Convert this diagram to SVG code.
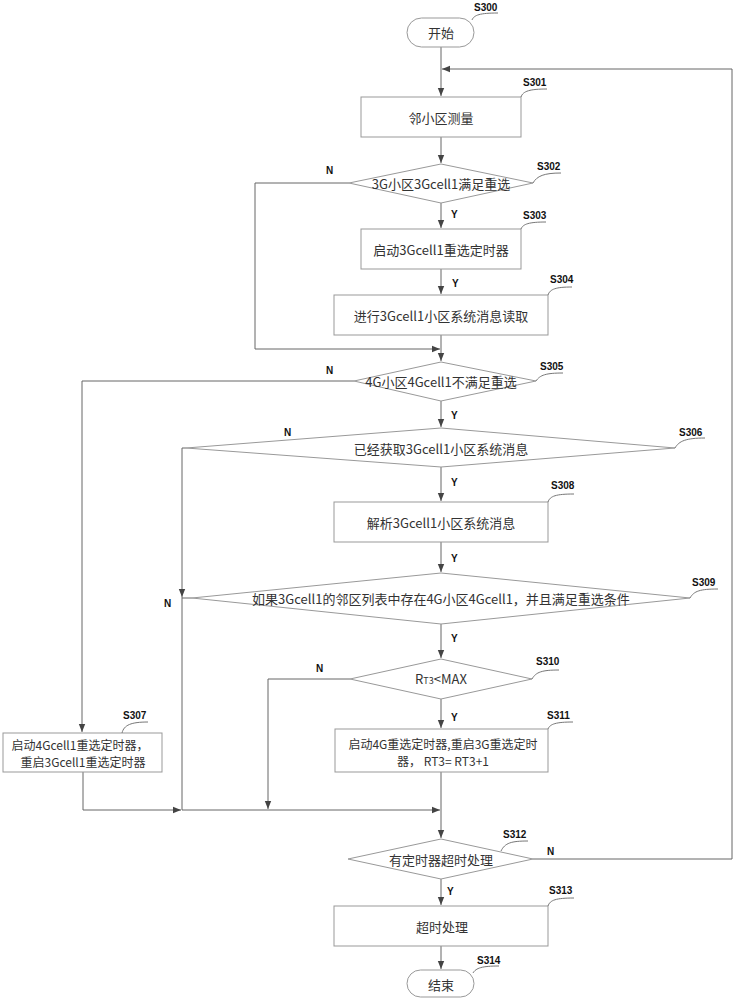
<svg xmlns="http://www.w3.org/2000/svg" width="735" height="1000" viewBox="0 0 735 1000">
<style>
.shape{fill:#fff;stroke:#999;stroke-width:1}
.conn{fill:none;stroke:#666;stroke-width:1}
.lead{fill:none;stroke:#777;stroke-width:1}
.t{font-family:"Noto Sans CJK SC","Liberation Sans",sans-serif;font-size:13px;fill:#333;text-anchor:middle;dominant-baseline:central}
.t2{font-family:"Noto Sans CJK SC","Liberation Sans",sans-serif;font-size:12px;fill:#333;text-anchor:middle;dominant-baseline:central}
.ta{font-family:"Noto Sans CJK SC","Liberation Sans",sans-serif;font-size:13px;fill:#333;text-anchor:middle}
.lbl{font-family:"Liberation Sans",Arial,sans-serif;font-size:10px;font-weight:bold;fill:#111}
.yn{font-family:"Liberation Sans",Arial,sans-serif;font-size:10px;font-weight:bold;fill:#111}
</style>
<defs>
<marker id="arr" markerUnits="userSpaceOnUse" markerWidth="8" markerHeight="8" viewBox="0 0 8 8" refX="8" refY="4" orient="auto">
<path d="M0,0.8 L8,4 L0,7.2 Z" fill="#444"/>
</marker>
</defs>
<rect width="735" height="1000" fill="#fff"/>

<g id="connectors">
<path class="conn" d="M441,47 V96" marker-end="url(#arr)"/>
<path class="conn" d="M441,137 V163" marker-end="url(#arr)"/>
<path class="conn" d="M441,203 V228" marker-end="url(#arr)"/>
<path class="conn" d="M441,269 V294" marker-end="url(#arr)"/>
<path class="conn" d="M441,335 V361" marker-end="url(#arr)"/>
<path class="conn" d="M349,183 H255 V349 H440" marker-end="url(#arr)"/>
<path class="conn" d="M441,401 V427" marker-end="url(#arr)"/>
<path class="conn" d="M354,381 H82 V732" marker-end="url(#arr)"/>
<path class="conn" d="M441,467 V501" marker-end="url(#arr)"/>
<path class="conn" d="M186,448 H182 V597" marker-end="url(#arr)"/>
<path class="conn" d="M182,597 V810"/>
<path class="conn" d="M441,542 V572" marker-end="url(#arr)"/>
<path class="conn" d="M192,598 H182"/>
<path class="conn" d="M441,624 V658" marker-end="url(#arr)"/>
<path class="conn" d="M350,679 H268 V809" marker-end="url(#arr)"/>
<path class="conn" d="M441,699 V728" marker-end="url(#arr)"/>
<path class="conn" d="M441,772 V838" marker-end="url(#arr)"/>
<path class="conn" d="M83,772 V810 H181" marker-end="url(#arr)"/>
<path class="conn" d="M182,810 H440" marker-end="url(#arr)"/>
<path class="conn" d="M533,859 H732 V69 H442" marker-end="url(#arr)"/>
<path class="conn" d="M441,879 V905" marker-end="url(#arr)"/>
<path class="conn" d="M441,946 V969" marker-end="url(#arr)"/>
<text class="yn" x="326" y="174">N</text>
<text class="yn" x="451" y="218">Y</text>
<text class="yn" x="452" y="287">Y</text>
<text class="yn" x="326" y="374">N</text>
<text class="yn" x="451" y="419">Y</text>
<text class="yn" x="284" y="436">N</text>
<text class="yn" x="451" y="486">Y</text>
<text class="yn" x="451" y="562">Y</text>
<text class="yn" x="164" y="607">N</text>
<text class="yn" x="451" y="642">Y</text>
<text class="yn" x="316" y="672">N</text>
<text class="yn" x="451" y="721">Y</text>
<text class="yn" x="547" y="855">N</text>
<text class="yn" x="447" y="895">Y</text>
</g>

<g id="S300">
<rect class="shape" x="407" y="18" width="67" height="29" rx="14.5"/>
<text class="t" x="441" y="32">开始</text>
<path class="lead" d="M472,20 C474,15 480,13 498,13"/>
<text class="lbl" x="474" y="11">S300</text>
</g>
<g id="S301">
<rect class="shape" x="361" y="97" width="160" height="40"/>
<text class="t" x="441" y="117">邻小区测量</text>
<path class="lead" d="M521,97 C523,91 530,89 547,89"/>
<text class="lbl" x="523" y="86">S301</text>
</g>
<g id="S302">
<polygon class="shape" points="441,164 533,183 441,203 349,183"/>
<text class="t" x="441" y="183">3G小区3Gcell1满足重选</text>
<path class="lead" d="M533,183 C537,176 544,173 561,173"/>
<text class="lbl" x="537" y="170">S302</text>
</g>
<g id="S303">
<rect class="shape" x="361" y="229" width="160" height="40"/>
<text class="t" x="441" y="249">启动3Gcell1重选定时器</text>
<path class="lead" d="M521,229 C523,224 529,222 546,222"/>
<text class="lbl" x="523" y="219">S303</text>
</g>
<g id="S304">
<rect class="shape" x="334" y="295" width="214" height="40"/>
<text class="t" x="441" y="315">进行3Gcell1小区系统消息读取</text>
<path class="lead" d="M548,295 C550,289 556,287 572,287"/>
<text class="lbl" x="550" y="283">S304</text>
</g>
<g id="S305">
<polygon class="shape" points="441,362 536,381 441,401 354,381"/>
<text class="t" x="441" y="381">4G小区4Gcell1不满足重选</text>
<path class="lead" d="M536,381 C540,375 546,373 563,373"/>
<text class="lbl" x="540" y="370">S305</text>
</g>
<g id="S306">
<polygon class="shape" points="441,428 675,448 441,467 186,448"/>
<text class="t" x="441" y="448">已经获取3Gcell1小区系统消息</text>
<path class="lead" d="M675,448 C679,441 686,438 705,438"/>
<text class="lbl" x="679" y="436">S306</text>
</g>
<g id="S307">
<rect class="shape" x="3" y="733" width="159" height="39"/>
<text class="t2" x="80" y="744">启动4Gcell1重选定时器，</text>
<text class="t2" x="83" y="761">重启3Gcell1重选定时器</text>
<path class="lead" d="M122,733 C124,725 131,722 148,722"/>
<text class="lbl" x="123" y="719">S307</text>
</g>
<g id="S308">
<rect class="shape" x="334" y="502" width="214" height="40"/>
<text class="t" x="441" y="522">解析3Gcell1小区系统消息</text>
<path class="lead" d="M548,502 C550,496 556,494 574,494"/>
<text class="lbl" x="551" y="489">S308</text>
</g>
<g id="S309">
<polygon class="shape" points="441,573 690,598 441,624 192,598"/>
<text class="t" x="441" y="598">如果3Gcell1的邻区列表中存在4G小区4Gcell1，并且满足重选条件</text>
<path class="lead" d="M690,598 C694,591 700,589 718,589"/>
<text class="lbl" x="692" y="586">S309</text>
</g>
<g id="S310">
<polygon class="shape" points="441,659 532,679 441,699 350,679"/>
<text class="ta" x="441" y="684">R<tspan font-size="9">T3</tspan>&lt;MAX</text>
<path class="lead" d="M532,679 C536,672 542,670 559,670"/>
<text class="lbl" x="536" y="665">S310</text>
</g>
<g id="S311">
<rect class="shape" x="335" y="729" width="213" height="43"/>
<text class="t2" x="443" y="743">启动4G重选定时器,重启3G重选定时</text>
<text class="t2" x="443" y="760">器， RT3= RT3+1</text>
<path class="lead" d="M548,729 C550,724 556,722 573,722"/>
<text class="lbl" x="547" y="719">S311</text>
</g>
<g id="S312">
<polygon class="shape" points="441,839 533,859 441,879 348,859"/>
<text class="t" x="441" y="859">有定时器超时处理</text>
<path class="lead" d="M501,851 C505,843 511,841 528,841"/>
<text class="lbl" x="503" y="838">S312</text>
</g>
<g id="S313">
<rect class="shape" x="334" y="906" width="214" height="40"/>
<text class="t" x="442" y="926">超时处理</text>
<path class="lead" d="M548,906 C550,900 556,898 574,898"/>
<text class="lbl" x="549" y="894">S313</text>
</g>
<g id="S314">
<rect class="shape" x="407" y="970" width="67" height="27" rx="13.5"/>
<text class="t" x="441" y="984">结束</text>
<path class="lead" d="M473,973 C476,968 482,966 499,966"/>
<text class="lbl" x="477" y="964">S314</text>
</g>
</svg>
